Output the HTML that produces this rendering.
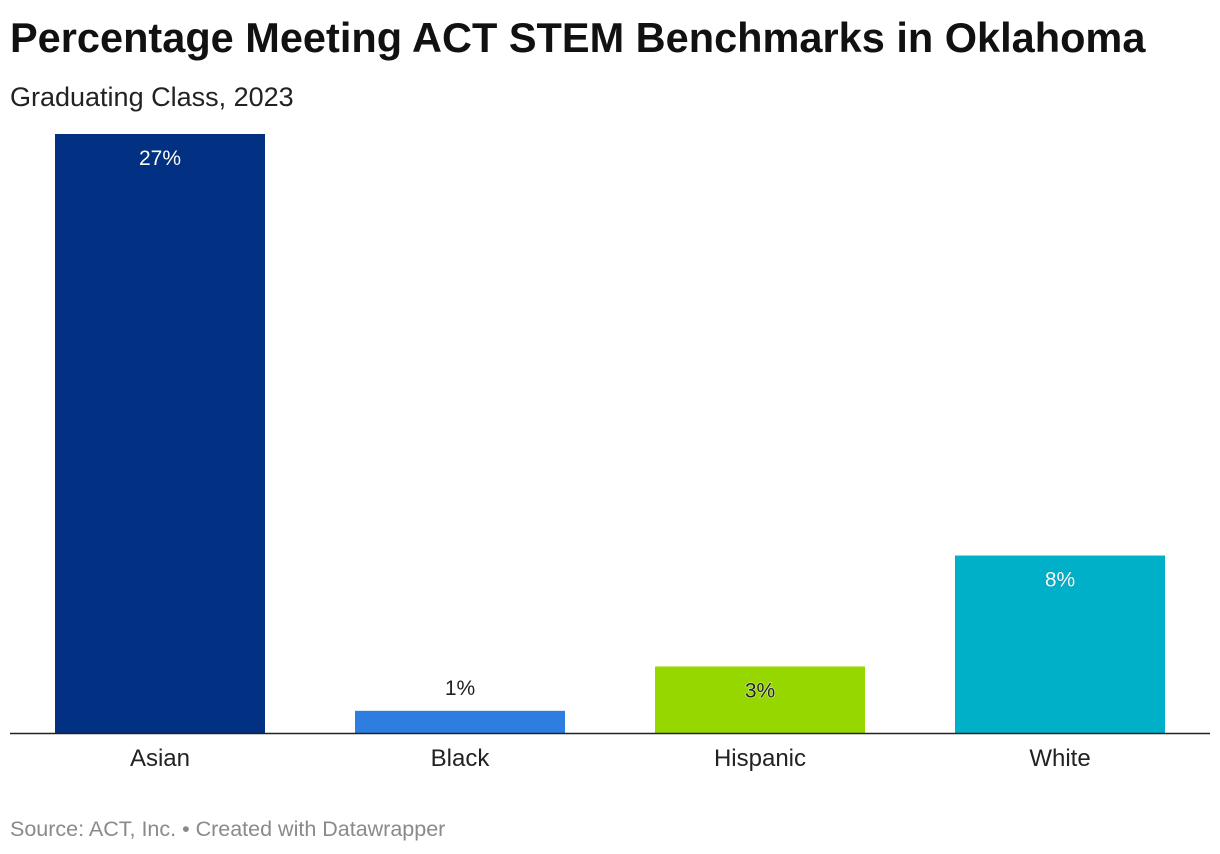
<!DOCTYPE html>
<html><head><meta charset="utf-8"><style>
body{margin:0;background:#fff;font-family:"Liberation Sans",sans-serif;}
#wrap{position:relative;width:1220px;height:854px;overflow:hidden;}
.title{position:absolute;left:10px;top:14px;font-size:41.5px;font-weight:bold;color:#111;}
.sub{position:absolute;left:10px;top:82px;font-size:27px;color:#222;}
.src{position:absolute;left:10px;top:817px;font-size:21.5px;color:#8a8a8a;}
</style></head><body><div id="wrap">
<div class="title">Percentage Meeting ACT STEM Benchmarks in Oklahoma</div>
<div class="sub">Graduating Class, 2023</div>
<svg id="plot" width="1220" height="854" style="position:absolute;left:0;top:0"></svg>
<div class="src">Source: ACT, Inc. • Created with Datawrapper</div>
</div>
<script>
const categories=["Asian","Black","Hispanic","White"];
const values=[27,1,3,8];
const labels=["27%","1%","3%","8%"];
const colors=["#023184","#2e7de1","#97d700","#00afc8"];
const NS="http://www.w3.org/2000/svg";
const svg=document.getElementById("plot");
const base=733, pxPer=599/27;
const y=v=>base-v*pxPer;
const x=i=>55+i*300;
const bw=210;
function mk(t,a){const e=document.createElementNS(NS,t);for(const k in a)e.setAttribute(k,a[k]);svg.appendChild(e);return e;}
categories.forEach((c,i)=>{
  const r=mk("rect",{x:x(i),y:y(values[i]),width:bw,height:base-y(values[i]),fill:colors[i]});
  
  
  const h=base-y(values[i]);
  const inside=h>40;
  const ty=inside?y(values[i])+31:y(values[i])-16;
  const light=inside&&i!==2;
  const t=mk("text",{x:x(i)+bw/2,y:ty,"text-anchor":"middle","font-size":"21","font-family":"Liberation Sans, sans-serif",fill:light?"#fff":"#222",stroke:light?"rgba(0,0,0,0.3)":"rgba(255,255,255,0.6)","stroke-width":light?"0.5":"1.2","paint-order":"stroke"});
  t.textContent=labels[i];
  
  
  const l=mk("text",{x:x(i)+bw/2,y:766,"text-anchor":"middle","font-size":"24","font-family":"Liberation Sans, sans-serif",fill:"#222"});
  l.textContent=c;
  
  
});
const ax=mk("line",{x1:10,x2:1210,y1:base+0.5,y2:base+0.5,stroke:"#222","stroke-width":"1.5"});


</script></body></html>
